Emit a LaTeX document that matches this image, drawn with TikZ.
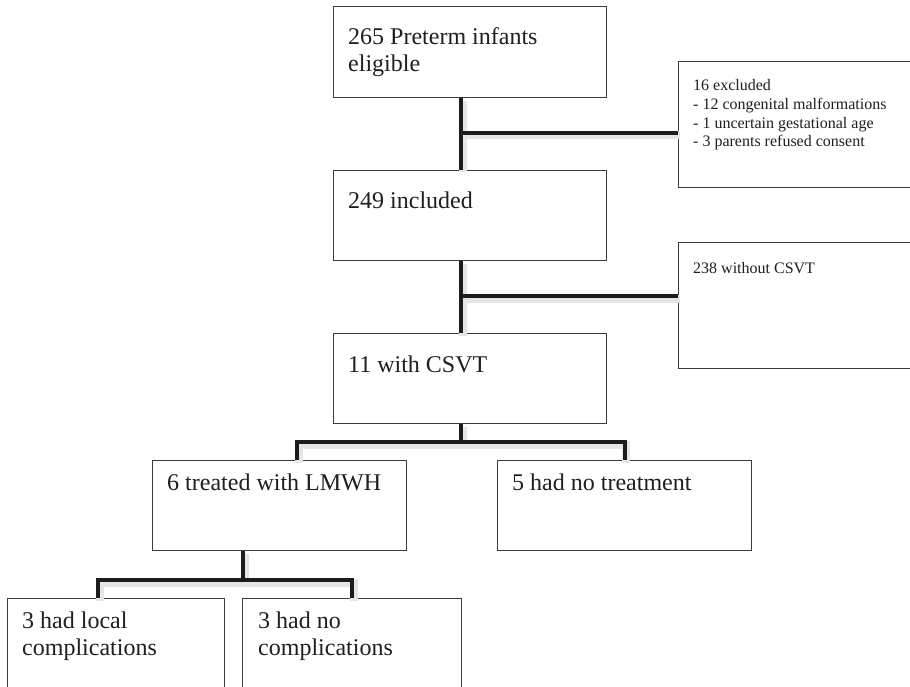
\documentclass[tikz,border=0pt]{standalone}
\usepackage{fontspec}
\setmainfont{Liberation Serif}
\definecolor{boxgray}{HTML}{3C3C3C}
\definecolor{linegray}{HTML}{1C1C1C}
\tikzset{
  box/.style={draw=boxgray, line width=1.4pt, fill=white, anchor=north west, inner sep=0pt},
  conn/.style={draw=linegray, line width=4.2pt, line join=miter,
    preaction={draw=black!10, line width=8pt, transform canvas={shift={(1.5pt,-2.5pt)}}}},
  big/.style={font=\fontsize{24}{27}\selectfont, anchor=base west, inner sep=0pt, text=black!88},
  small/.style={font=\fontsize{16}{18.6}\selectfont, anchor=base west, inner sep=0pt, text=black!88},
}
\begin{document}
\begin{tikzpicture}[x=1pt,y=-1pt]
\useasboundingbox (0,0) rectangle (910,687);
\clip (0,0) rectangle (910,687);
% boxes
\node[box, minimum width=273pt, minimum height=91pt] (b1) at (333,6) {};
\node[box, minimum width=273pt, minimum height=90pt] (b2) at (333,170) {};
\node[box, minimum width=273pt, minimum height=90pt] (b3) at (333,333) {};
\node[box, minimum width=254pt, minimum height=90pt] (b4) at (152,460) {};
\node[box, minimum width=254pt, minimum height=90pt] (b5) at (497,460) {};
\node[box, minimum width=217pt, minimum height=100pt] (b6) at (7,598) {};
\node[box, minimum width=219pt, minimum height=100pt] (b7) at (242,598) {};
\node[box, minimum width=250pt, minimum height=126pt] (s1) at (678,61) {};
\node[box, minimum width=250pt, minimum height=126pt] (s2) at (678,242) {};
% texts
\node[big] (t1) at (348,45) {\vtop{\hbox{265 Preterm infants}\hbox{eligible}}};
\node[big] (t2) at (348,208) {249 included};
\node[big] (t3) at (348,372) {11 with CSVT};
\node[big] (t4) at (167,490) {6 treated with LMWH};
\node[big] (t5) at (512,490) {5 had no treatment};
\node[big] (t6) at (22,628) {\vtop{\hbox{3 had local}\hbox{complications}}};
\node[big] (t7) at (258,628) {\vtop{\hbox{3 had no}\hbox{complications}}};
\node[small] (u1) at (693,91) {\vtop{\hbox{16 excluded}\hbox{- 12 congenital malformations}\hbox{- 1 uncertain gestational age}\hbox{- 3 parents refused consent}}};
\node[small] (u2) at (693,273) {238 without CSVT};
% connectors
\coordinate (j1) at (461,133);
\draw[conn] (j1 |- b1.south) -- (j1 |- b2.north);
\draw[conn] (j1) -- (j1 -| s1.west);
\coordinate (j2) at (461,296);
\draw[conn] (j2 |- b2.south) -- (j2 |- b3.north);
\draw[conn] (j2) -- (j2 -| s2.west);
\coordinate (j3) at (461,442);
\draw[conn] (j3 |- b3.south) -- (j3);
\coordinate (d4) at (297,442);
\draw[conn] (d4 |- b4.north) -- (d4) -- (j3 -| b5.north) -- (b5.north);
\coordinate (j4) at (243,580);
\draw[conn] (j4 |- b4.south) -- (j4);
\coordinate (d6) at (98,580);
\draw[conn] (d6 |- b6.north) -- (d6) -- (j4 -| b7.north) -- (b7.north);
\end{tikzpicture}
\end{document}
